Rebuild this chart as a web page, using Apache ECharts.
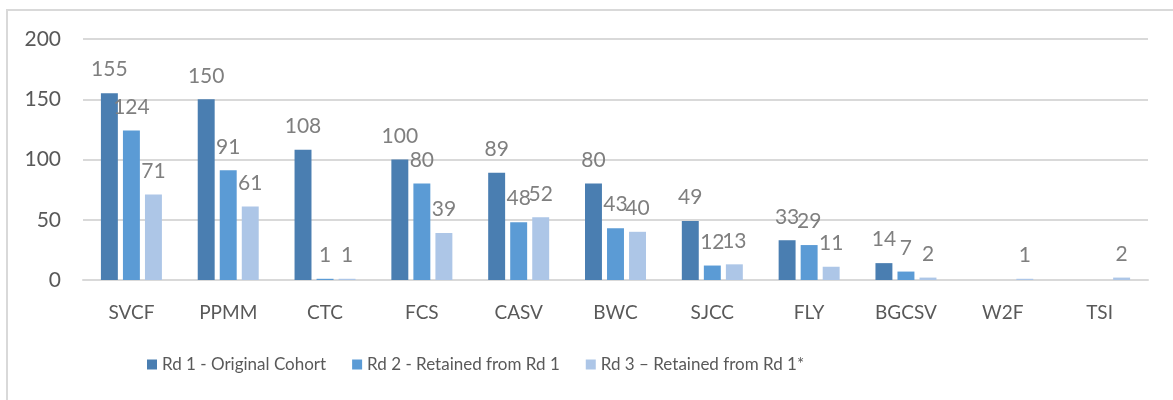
<!DOCTYPE html>
<html><head><meta charset="utf-8">
<script src="https://cdn.jsdelivr.net/npm/echarts@6/dist/echarts.min.js"></script>
<style>
html,body{margin:0;padding:0;background:#fff;}
#frame{position:absolute;left:6px;top:9px;width:1167px;height:391px;border-top:2px solid #d9d9d9;border-left:2px solid #d9d9d9;box-sizing:border-box;}
#chart{position:absolute;left:0;top:0;width:1173px;height:400px;}
</style></head>
<body>
<div id="frame"></div>
<div id="chart"></div>
<script>
const categories = ['SVCF','PPMM','CTC','FCS','CASV','BWC','SJCC','FLY','BGCSV','W2F','TSI'];
const seriesNames = ['Rd 1 - Original Cohort','Rd 2 - Retained from Rd 1','Rd 3 \u2013 Retained from Rd 1*'];
const rd1 = [155,150,108,100,89,80,49,33,14,null,null];
const rd2 = [124,91,1,80,48,43,12,29,7,null,null];
const rd3 = [71,61,1,39,52,40,13,11,2,1,2];
const yTicks = [0,50,100,150,200];
const colors = ['#4A7EB1','#5B9BD5','#ADC6E7'];

const font = 'Lato, "Open Sans", sans-serif';
const chart = echarts.init(document.getElementById('chart'), null, {renderer:'canvas'});
const mk = (name, data, i) => ({
  name, type:'bar', data,
  barGap:'30%', barCategoryGap:'37%',
  itemStyle:{color:colors[i]},
  label:{show:true, position:'top', distance:13, color:'#7f7f7f', fontSize:21, fontFamily:font},
  emphasis:{disabled:true}
});
chart.setOption({
  animation:false,
  textStyle:{fontFamily:font},
  grid:{left:83, right:25, top:39, bottom:120, containLabel:false},
  legend:{
    data:seriesNames, top:351, left:142, itemWidth:10, itemHeight:10, itemGap:26,
    icon:'rect', textStyle:{color:'#595959', fontSize:17, fontFamily:font}
  },
  xAxis:{
    type:'category', data:categories,
    axisLine:{lineStyle:{color:'#d9d9d9', width:2}}, axisTick:{show:false},
    axisLabel:{color:'#595959', fontSize:19, margin:23, fontFamily:font}
  },
  yAxis:{
    type:'value', min:yTicks[0], max:yTicks[yTicks.length-1], interval:50,
    axisLine:{show:false}, axisTick:{show:false},
    splitLine:{lineStyle:{color:'#d9d9d9', width:2}},
    axisLabel:{color:'#595959', fontSize:21, margin:22, fontFamily:font}
  },
  series:[mk(seriesNames[0], rd1, 0), mk(seriesNames[1], rd2, 1), mk(seriesNames[2], rd3, 2)]
});
</script>
</body></html>
